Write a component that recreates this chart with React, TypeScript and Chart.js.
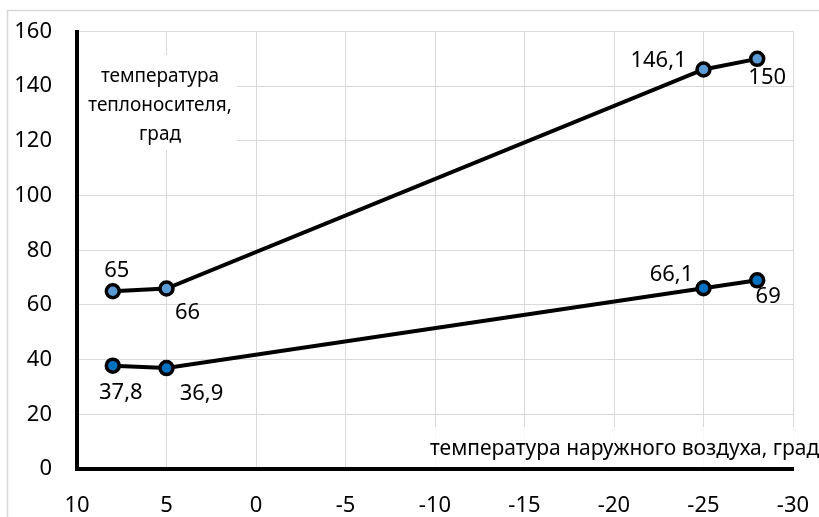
import React, { useEffect, useRef } from "react";
import { Chart, registerables } from "chart.js";

Chart.register(...registerables);

// ---- data ----
const outdoorTemps = [8, 5, -25, -28];
const supplyTemps = [65, 66, 146.1, 150];
const returnTemps = [37.8, 36.9, 66.1, 69];
const xTickRange = { min: -30, max: 10, step: 5 };
const yTickRange = { min: 0, max: 160, step: 20 };
const yTitleLines = ["температура", "теплоносителя,", "град"];
const xTitle = "температура наружного воздуха, град";

// ---- label placement (style, text centre offset from point in px) ----
const supplyLabelOffsets = [
  [4, -21],
  [21, 24],
  [-45, -9],
  [10, 19],
];
const returnLabelOffsets = [
  [8, 27],
  [35, 26],
  [-32, -14],
  [11, 16],
];

const FONT = "'Noto Sans', 'DejaVu Sans', sans-serif";
const fmt = (v: number) => String(v).replace(".", ",");

const decorPlugin = {
  id: "decor",
  beforeDraw(chart: any) {
    const { ctx, width, height } = chart;
    ctx.save();
    ctx.fillStyle = "#ffffff";
    ctx.fillRect(0, 0, width, height);
    ctx.strokeStyle = "#d9d9d9";
    ctx.lineWidth = 1.5;
    ctx.strokeRect(7.5, 10.5, width + 20, height + 20);
    ctx.restore();
  },
  beforeDatasetsDraw(chart: any) {
    const { ctx, chartArea } = chart;
    ctx.save();
    // y title box
    ctx.fillStyle = "#ffffff";
    ctx.fillRect(chartArea.left + 2, 55, 158, 95);
    ctx.fillStyle = "#000000";
    ctx.font = `19px ${FONT}`;
    ctx.textAlign = "center";
    ctx.textBaseline = "alphabetic";
    const baselines = [82, 111, 140];
    yTitleLines.forEach((line, i) => ctx.fillText(line, 160, baselines[i]));
    // x title box
    ctx.fillStyle = "rgba(255,255,255,0.85)";
    ctx.fillRect(428, 427, 400, chartArea.bottom - 427 - 2);
    ctx.fillStyle = "#000000";
    ctx.font = `21px ${FONT}`;
    ctx.textAlign = "left";
    ctx.fillText(xTitle, 430, 455);
    ctx.restore();
  },
  afterDatasetsDraw(chart: any) {
    const { ctx } = chart;
    ctx.save();
    ctx.fillStyle = "#000000";
    ctx.font = `22px ${FONT}`;
    ctx.textAlign = "center";
    ctx.textBaseline = "middle";
    chart.data.datasets.forEach((ds: any, di: number) => {
      const meta = chart.getDatasetMeta(di);
      const offs = ds.labelOffsets as number[][];
      meta.data.forEach((pt: any, i: number) => {
        const v = ds.data[i].y;
        ctx.fillText(fmt(v), pt.x + offs[i][0], pt.y + offs[i][1]);
      });
    });
    ctx.restore();
  },
};

export default function App() {
  const ref = useRef<HTMLCanvasElement | null>(null);

  useEffect(() => {
    if (!ref.current) return;
    const chart = new Chart(ref.current, {
      type: "line",
      data: {
        datasets: [
          {
            label: "supply",
            data: outdoorTemps.map((x, i) => ({ x, y: supplyTemps[i] })),
            borderColor: "#000000",
            borderWidth: 4,
            pointRadius: 6.5,
            pointBorderWidth: 3.5,
            pointBackgroundColor: "#5B9BD5",
            pointBorderColor: "#000000",
            labelOffsets: supplyLabelOffsets,
          } as any,
          {
            label: "return",
            data: outdoorTemps.map((x, i) => ({ x, y: returnTemps[i] })),
            borderColor: "#000000",
            borderWidth: 4,
            pointRadius: 6.5,
            pointBorderWidth: 3.5,
            pointBackgroundColor: "#0070C0",
            pointBorderColor: "#000000",
            labelOffsets: returnLabelOffsets,
          } as any,
        ],
      },
      options: {
        responsive: false,
        animation: false,
        devicePixelRatio: 1,
        layout: { padding: { top: 31.5, right: 26, left: 0, bottom: 0 } },
        plugins: {
          legend: { display: false },
          tooltip: { enabled: false },
        },
        scales: {
          x: {
            type: "linear",
            reverse: true,
            min: xTickRange.min,
            max: xTickRange.max,
            ticks: {
              stepSize: xTickRange.step,
              color: "#000000",
              font: { family: FONT, size: 22 },
              padding: 24,
              maxRotation: 0,
            },
            grid: { color: "#d9d9d9", lineWidth: 1, drawTicks: false },
            border: { color: "#000000", width: 4 },
            afterFit: (scale: any) => {
              scale.height = 48;
              scale.paddingLeft = 0;
              scale.paddingRight = 0;
            },
          },
          y: {
            min: yTickRange.min,
            max: yTickRange.max,
            ticks: {
              stepSize: yTickRange.step,
              color: "#000000",
              font: { family: FONT, size: 22 },
              padding: 25,
            },
            grid: { color: "#d9d9d9", lineWidth: 1, drawTicks: false },
            border: { color: "#000000", width: 4 },
            afterFit: (scale: any) => {
              scale.width = 77;
              scale.paddingTop = 0;
              scale.paddingBottom = 0;
            },
          },
        },
      },
      plugins: [decorPlugin],
    });
    return () => chart.destroy();
  }, []);

  return (
    <div style={{ position: "fixed", left: 0, top: 0, width: 819, height: 517, background: "#fff" }}>
      <canvas ref={ref} width={819} height={517} style={{ display: "block" }} />
    </div>
  );
}
